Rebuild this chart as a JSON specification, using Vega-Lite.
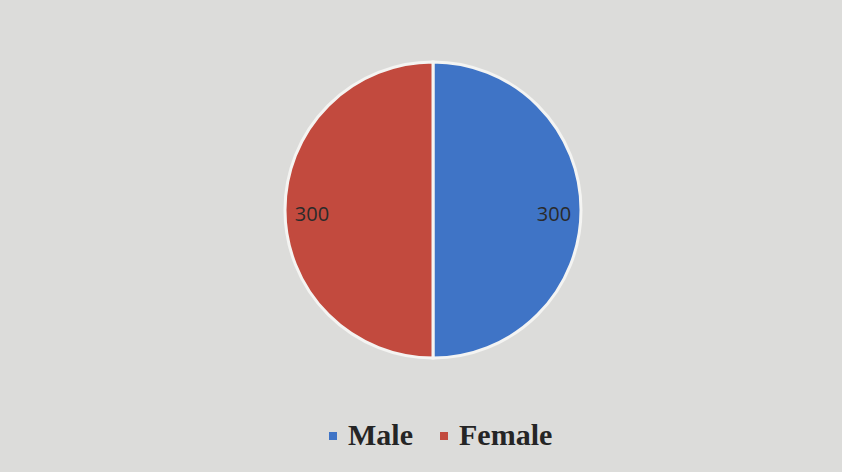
{
  "$schema": "https://vega.github.io/schema/vega-lite/v6.json",
  "width": 866,
  "height": 420,
  "autosize": "none",
  "padding": {"left": 0, "top": 0, "right": 0, "bottom": 52},
  "background": "#dcdcda",
  "config": {"view": {"stroke": null}},
  "data": {"values": [
    {"gender": "Male", "count": 300, "order": 1},
    {"gender": "Female", "count": 300, "order": 2}
  ]},
  "encoding": {
    "theta": {"field": "count", "type": "quantitative", "stack": true},
    "order": {"field": "order", "type": "quantitative"}
  },
  "layer": [
    {
      "mark": {"type": "arc", "outerRadius": 148, "stroke": "#f4f4f2", "strokeWidth": 3},
      "encoding": {
        "color": {
          "field": "gender", "type": "nominal",
          "scale": {"domain": ["Male", "Female"], "range": ["#3f74c6", "#c24a3e"]},
          "legend": {
            "orient": "none", "legendX": 318, "legendY": 421, "direction": "horizontal",
            "title": null, "labelFont": "Liberation Serif", "labelFontSize": 30,
            "labelFontWeight": "bold", "labelColor": "#252525", "symbolType": "square",
            "symbolSize": 64, "symbolStrokeWidth": 0, "columnPadding": 16, "labelOffset": 0
          }
        }
      }
    },
    {
      "mark": {"type": "text", "radius": 121, "fontSize": 20, "font": "Open Sans", "dy": 5},
      "encoding": {
        "text": {"field": "count", "type": "quantitative"},
        "color": {"value": "#2a2a2a"}
      }
    }
  ]
}
